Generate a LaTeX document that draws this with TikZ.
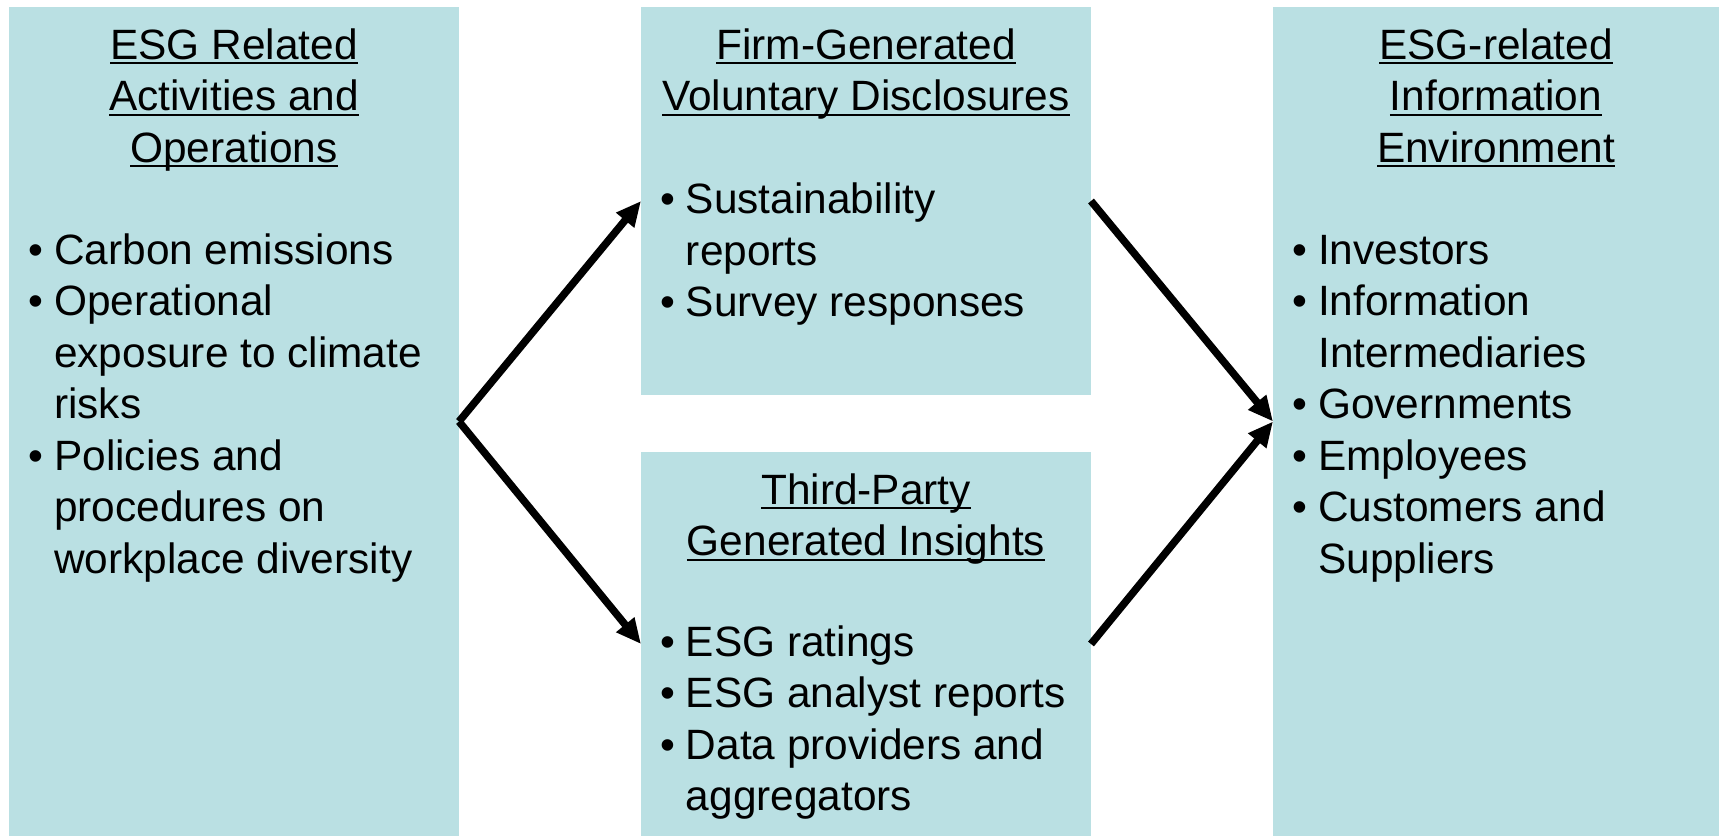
\documentclass[tikz,border=0pt]{standalone}
\usepackage{fontspec}
\setmainfont{Liberation Sans}
\usetikzlibrary{arrows.meta}
\definecolor{boxfill}{RGB}{186,224,227}
% underlined heading line with a fixed rule below the baseline
\newcommand{\ulined}[1]{\setbox0\hbox{#1}\rlap{\rule[-5pt]{\wd0}{2pt}}\box0}
% bullet and continuation indent for item lists
\newcommand{\bul}{\makebox[25.4pt][l]{\textbullet}}
\newcommand{\cont}{\hspace*{25.4pt}}
\begin{document}
\begin{tikzpicture}[x=1pt,y=-1pt,
  panel/.style={fill=boxfill, draw=none, inner sep=0pt, outer sep=0pt, anchor=north west},
  txt/.style={inner sep=0pt, font=\fontsize{42.4pt}{51.5pt}\selectfont},
  % multi-line nodes: the base anchor sits on the last line's baseline
  heading/.style={txt, align=center, anchor=base},
  items/.style={txt, align=left, anchor=base west},
  flow/.style={line width=7.5pt, -{Triangle[length=25pt,width=22pt]}}]
\useasboundingbox (0,0) rectangle (1719,836);

% panels
\node[panel, minimum width=450pt, minimum height=829pt] (act) at (9,7) {};
\node[panel, minimum width=450pt, minimum height=388pt] (firm) at (641,7) {};
\node[panel, minimum width=450pt, minimum height=384pt] (third) at (641,452) {};
\node[panel, minimum width=446pt, minimum height=829pt] (env) at (1273,7) {};

% headings
\node[heading] (actT) at (234,162) {\ulined{ESG Related}\\\ulined{Activities and}\\\ulined{Operations}};
\node[heading] (firmT) at (866,110.5) {\ulined{Firm-Generated}\\\ulined{Voluntary Disclosures}};
\node[heading] (thirdT) at (866,555.5) {\ulined{Third-Party}\\\ulined{Generated Insights}};
\node[heading] (envT) at (1496,162) {\ulined{ESG-related}\\\ulined{Information}\\\ulined{Environment}};

% item lists
\node[items] (actL) at (28.6,573) {\bul Carbon emissions\\
  \bul Operational\\ \cont exposure to climate\\ \cont risks\\
  \bul Policies and\\ \cont procedures on\\ \cont workplace diversity};
\node[items] (firmL) at (660.3,316.5) {\bul Sustainability\\ \cont reports\\
  \bul Survey responses};
\node[items] (thirdL) at (660.3,810.5) {\bul ESG ratings\\
  \bul ESG analyst reports\\
  \bul Data providers and\\ \cont aggregators};
\node[items] (envL) at (1292.6,573) {\bul Investors\\
  \bul Information\\ \cont Intermediaries\\
  \bul Governments\\
  \bul Employees\\
  \bul Customers and\\ \cont Suppliers};

% information flows
\draw[flow] (act.east) -- (firm.west);
\draw[flow] (act.east) -- (third.west);
\draw[flow] (firm.east) -- (env.west);
\draw[flow] (third.east) -- (env.west);
\end{tikzpicture}
\end{document}
